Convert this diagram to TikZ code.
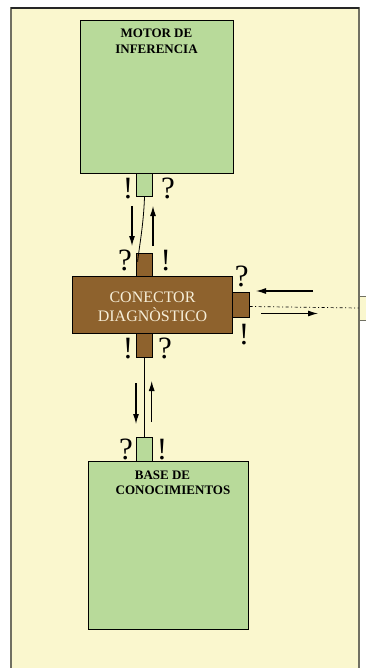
\documentclass[tikz,border=0pt]{standalone}
\usepackage{fontspec}
\setmainfont{Liberation Serif}
\usetikzlibrary{arrows.meta,calc}
\definecolor{paper}{RGB}{250,247,206}
\definecolor{leaf}{RGB}{184,218,154}
\definecolor{bark}{RGB}{142,98,45}
\definecolor{frame}{RGB}{112,112,98}
\definecolor{cream}{RGB}{246,238,216}
\begin{document}
\begin{tikzpicture}[x=1pt,y=-1pt,
  greenbox/.style={draw=black, line width=0.9pt, fill=leaf, inner sep=0pt},
  brownbox/.style={draw=black, line width=0.9pt, fill=bark, inner sep=0pt},
  title/.style={font=\bfseries\fontsize{13}{16}\selectfont, align=center, anchor=base, inner sep=0pt},
  sym/.style={font=\fontsize{31}{31}\selectfont, anchor=base, inner sep=0pt},
  flow/.style={line width=1.1pt, -{Latex[length=10pt,width=6pt]}},
  wire/.style={line width=0.8pt}
]
\useasboundingbox (0,0) rectangle (366,668);
\clip (0,0) rectangle (366,668);

% sheet
\fill[white] (0,0) rectangle (366,668);
\draw[frame, line width=1.8pt, fill=paper] (11,8) rectangle (359,690);
\draw[black!85, line width=1.2pt] (11,8) -- (359,8);

% inference engine
\node[greenbox, minimum width=153pt, minimum height=153pt] (motor) at (156.5,96.5) {};
\node[title] (motorA) at (156.5,37.7) {MOTOR DE};
\node[title] (motorB) at (156.5,54) {INFERENCIA};
\node[greenbox, minimum width=16.5pt, minimum height=23.5pt] (mtab) at (144.5,185) {};

% diagnostic connector
\node[brownbox, minimum width=16.5pt, minimum height=24pt] (ctop) at (144.5,265) {};
\node[brownbox, minimum width=16.5pt, minimum height=24pt] (cbot) at (144.5,345.5) {};
\node[brownbox, minimum width=16.5pt, minimum height=24.5pt] (cright) at (241,305) {};
\node[brownbox, minimum width=160.5pt, minimum height=56.5pt] (conn) at (152.5,305) {};
\node[font=\fontsize{16}{18.7}\selectfont, text=cream, anchor=base, inner sep=0pt] (connA) at (152.5,302.3) {CONECTOR};
\node[font=\fontsize{16}{18.7}\selectfont, text=cream, anchor=base, inner sep=0pt] (connB) at (152.5,321) {DIAGNÒSTICO};

% knowledge base
\node[greenbox, minimum width=16.5pt, minimum height=24pt] (btab) at (144.5,449.5) {};
\node[greenbox, minimum width=160.5pt, minimum height=168pt] (base) at (168.5,545.8) {};
\node[title] (baseA) at (162.5,479) {BASE DE};
\node[title] (baseB) at (173,494.3) {CONOCIMIENTOS};

% external device
\node[draw=frame, line width=0.9pt, fill=paper, inner sep=0pt, minimum width=20pt, minimum height=24pt] (ext) at (369,308) {};

% links
\coordinate (ctopin) at ($(ctop.north west)+(1.8,9)$);
\draw[wire] (mtab.south) .. controls (143.5,225) and (139.5,245) .. (ctopin);
\draw[wire] (cbot.south) -- (btab.north);
\coordinate (cout) at ($(cright.east)+(0,1.5)$);
\draw[line width=0.7pt, dash pattern=on 3pt off 2.5pt on 1pt off 2.5pt] (cout) -- (ext.west);

% message flow
\coordinate (a1s) at (132,206); \coordinate (a1e) at (132,246);
\coordinate (a2s) at (153,246); \coordinate (a2e) at (153,206);
\coordinate (a3s) at (136,383); \coordinate (a3e) at (136,424);
\coordinate (a4s) at (151.7,422); \coordinate (a4e) at (151.7,381);
\coordinate (a5s) at (313,291); \coordinate (a5e) at (256,291);
\coordinate (a6s) at (261,313.5); \coordinate (a6e) at (318,313.5);
\draw[flow] (a1s) -- (a1e);
\draw[flow] (a2s) -- (a2e);
\draw[flow] (a3s) -- (a3e);
\draw[flow] (a4s) -- (a4e);
\draw[flow] (a5s) -- (a5e);
\draw[flow] (a6s) -- (a6e);

% queries and answers
\node[sym] (s1) at (128,199) {!};
\node[sym] (s2) at (168,199) {?};
\node[sym] (s3) at (125,270) {?};
\node[sym] (s4) at (165.7,270) {!};
\node[sym] (s5) at (128,358) {!};
\node[sym] (s6) at (165,358) {?};
\node[sym] (s7) at (241.7,286) {?};
\node[sym] (s8) at (244,344) {!};
\node[sym] (s9) at (126,459) {?};
\node[sym] (s10) at (162,459) {!};
\end{tikzpicture}
\end{document}
